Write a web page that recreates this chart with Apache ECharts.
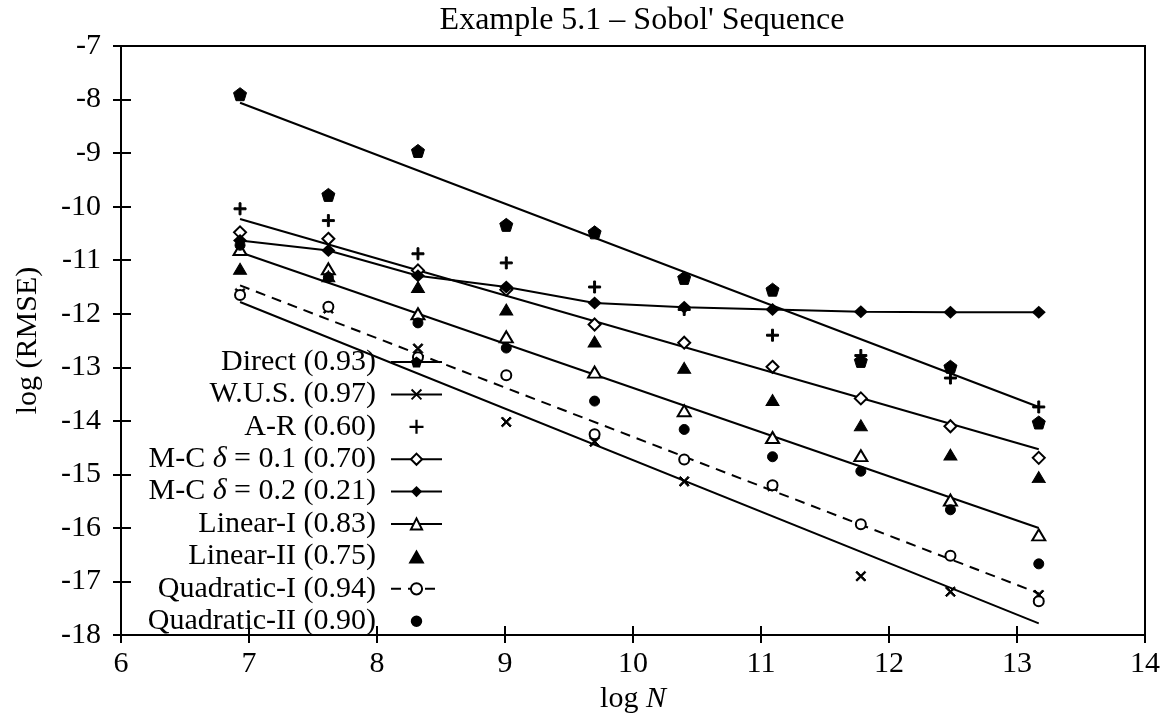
<!DOCTYPE html>
<html>
<head>
<meta charset="utf-8">
<script src="https://cdn.jsdelivr.net/npm/echarts@6/dist/echarts.min.js"></script>
<style>html,body{margin:0;padding:0;background:#fff}#c{width:1166px;height:719px}</style>
</head>
<body>
<div id="c"></div>
<script>
// ---- data ----
const logN = [6.93, 7.62, 8.32, 9.01, 9.70, 10.40, 11.09, 11.78, 12.48, 13.17];
const direct = [-7.90, -9.78, -8.96, -10.34, -10.48, -11.33, -11.55, -12.88, -12.99, -14.03];
const wus    = [-11.62, -11.90, -12.65, -14.02, -14.39, -15.13, -15.22, -16.90, -17.19, -17.25];
const ar     = [-10.04, -10.26, -10.88, -11.05, -11.50, -11.92, -12.40, -12.78, -13.20, -13.74];
const mc01   = [-10.48, -10.60, -11.19, -11.55, -12.20, -12.54, -12.99, -13.58, -14.10, -14.69];
const mc02   = [-10.63, -10.82, -11.29, -11.50, -11.80, -11.88, -11.92, -11.96, -11.97, -11.97];
const lin1   = [-10.80, -11.16, -12.00, -12.43, -13.09, -13.81, -14.31, -14.65, -15.48, -16.13];
const lin2   = [-11.16, -11.30, -11.50, -11.92, -12.52, -13.01, -13.61, -14.08, -14.63, -15.05];
const quad1  = [-11.65, -11.87, -12.81, -13.15, -14.25, -14.72, -15.20, -15.93, -16.52, -17.37];
const quad2  = [-10.72, -11.32, -12.17, -12.64, -13.63, -14.16, -14.67, -14.94, -15.66, -16.67];
// fitted lines: value at first and last logN
const fitX      = [6.93, 13.17];
const directFit = [-8.06, -13.74];
const wusFit    = [-11.78, -17.78];
const mc01Fit   = [-10.23, -14.53];
const lin1Fit   = [-10.85, -16.00];
const quad1Fit  = [-11.47, -17.22];
const xTicks = [6, 7, 8, 9, 10, 11, 12, 13, 14];
const yTicks = [-18, -17, -16, -15, -14, -13, -12, -11, -10, -9, -8, -7];
const names = {
  direct: 'Direct (0.93)', wus: 'W.U.S. (0.97)', ar: 'A-R (0.60)',
  mc01: 'M-C δ = 0.1 (0.70)', mc02: 'M-C δ = 0.2 (0.21)',
  lin1: 'Linear-I (0.83)', lin2: 'Linear-II (0.75)',
  quad1: 'Quadratic-I (0.94)', quad2: 'Quadratic-II (0.90)'
};
const title = "Example 5.1 – Sobol' Sequence";

// ---- helpers ----
const FONT = 'Liberation Serif';
const pts = ys => logN.map((x, i) => [x, ys[i]]);
const fit = ys => fitX.map((x, i) => [x, ys[i]]);
const PENT = 'path://M5,0 L10,3.8 L8.1,10 L1.9,10 L0,3.8 Z';
const PLUS = 'path://M4.2,0 H5.8 V4.2 H10 V5.8 H5.8 V10 H4.2 V5.8 H0 V4.2 H4.2 Z';
const CROSS = 'path://M0,1.2 L1.2,0 L5,3.8 L8.8,0 L10,1.2 L6.2,5 L10,8.8 L8.8,10 L5,6.2 L1.2,10 L0,8.8 L3.8,5 Z';
const TRI = 'path://M5,0 L10,8.7 L0,8.7 Z';
const L_DOT = 'path://M0,0 M11,11 M5.5,1 A4.5,4.5 0 1,1 5.49,1 Z';
const blk = '#000';

function fitLine(name, ys, symbol, dashed) {
  return {
    type: 'line', name, data: fit(ys), showSymbol: false, symbol, symbolSize: 12,
    itemStyle: { color: blk }, lineStyle: { color: blk, width: 2, type: dashed ? [10, 7] : 'solid' },
    animation: false, silent: true, z: 2
  };
}
function scat(name, ys, symbol, size) {
  return {
    type: 'scatter', name, data: pts(ys), symbol, symbolSize: size,
    itemStyle: { color: blk, borderColor: blk, opacity: 1 }, animation: false, silent: true, z: 3
  };
}

const series = [
  fitLine(names.direct, directFit, PENT),
  scat(names.direct, direct, PENT, 13),
  fitLine(names.wus, wusFit, CROSS),
  scat(names.wus, wus, CROSS, 10),
  scat(names.ar, ar, PLUS, 12),
  fitLine(names.mc01, mc01Fit, 'emptyDiamond'),
  scat(names.mc01, mc01, 'emptyDiamond', [12, 12]),
  {
    type: 'line', name: names.mc02, data: pts(mc02), symbol: 'diamond', symbolSize: [14, 13],
    showSymbol: true, itemStyle: { color: blk }, lineStyle: { color: blk, width: 2 },
    animation: false, silent: true, z: 3
  },
  fitLine(names.lin1, lin1Fit, 'emptyTriangle'),
  scat(names.lin1, lin1, 'emptyTriangle', [13, 11]),
  scat(names.lin2, lin2, TRI, [13, 11]),
  fitLine(names.quad1, quad1Fit, 'emptyCircle', true),
  scat(names.quad1, quad1, 'emptyCircle', 10),
  scat(names.quad2, quad2, 'circle', 10)
];

const legendData = Object.values(names).map(n => {
  if (n === names.ar) return { name: n, icon: PLUS };
  if (n === names.lin2) return { name: n, icon: TRI };
  if (n === names.quad2) return { name: n, icon: L_DOT };
  return { name: n };
});

const axisText = { fontFamily: FONT, fontSize: 30, color: blk };
const chart = echarts.init(document.getElementById('c'), null, { renderer: 'canvas' });
chart.setOption({
  backgroundColor: '#fff',
  animation: false,
  title: {
    text: title, left: 637, top: 0, textAlign: 'center',
    textStyle: { fontFamily: FONT, fontSize: 32, fontWeight: 'normal', color: blk }
  },
  grid: { left: 121, top: 46, width: 1024, height: 591, show: true, borderColor: blk, borderWidth: 2, backgroundColor: 'transparent' },
  legend: {
    orient: 'vertical', align: 'right', right: 723, top: 347, padding: 0,
    itemWidth: 51, itemHeight: 14, itemGap: 2.4, selectedMode: false,
    data: legendData,
    itemStyle: { opacity: 1 },
    formatter: n => n.replace('δ', '{i|δ}') + '{s| }',
    textStyle: {
      fontFamily: FONT, fontSize: 30, lineHeight: 30, color: blk,
      rich: {
        i: { fontFamily: FONT, fontSize: 30, fontStyle: 'italic', color: blk, lineHeight: 30 },
        s: { width: 10, fontSize: 30, lineHeight: 30 }
      }
    }
  },
  xAxis: {
    type: 'value', position: 'bottom', offset: -9,
    min: xTicks[0], max: xTicks[xTicks.length - 1], interval: 1,
    name: 'log {i|N}', nameLocation: 'middle', nameGap: 41,
    nameTextStyle: { fontFamily: FONT, fontSize: 30, color: blk,
      rich: { i: { fontFamily: FONT, fontSize: 30, fontStyle: 'italic', color: blk } } },
    axisLine: { show: false, onZero: false },
    axisTick: { show: true, inside: false, length: 17, lineStyle: { color: blk, width: 2 } },
    axisLabel: Object.assign({ margin: 23 }, axisText),
    splitLine: { show: false }
  },
  yAxis: {
    type: 'value', position: 'left', offset: -10,
    min: yTicks[0], max: yTicks[yTicks.length - 1], interval: 1,
    name: 'log (RMSE)', nameLocation: 'middle', nameGap: 88, nameRotate: 90,
    nameTextStyle: { fontFamily: FONT, fontSize: 30, color: blk },
    axisLine: { show: false, onZero: false },
    axisTick: { show: true, inside: false, length: 18, lineStyle: { color: blk, width: 2 } },
    axisLabel: Object.assign({ margin: 30 }, axisText),
    splitLine: { show: false }
  },
  series
});
</script>
</body>
</html>
